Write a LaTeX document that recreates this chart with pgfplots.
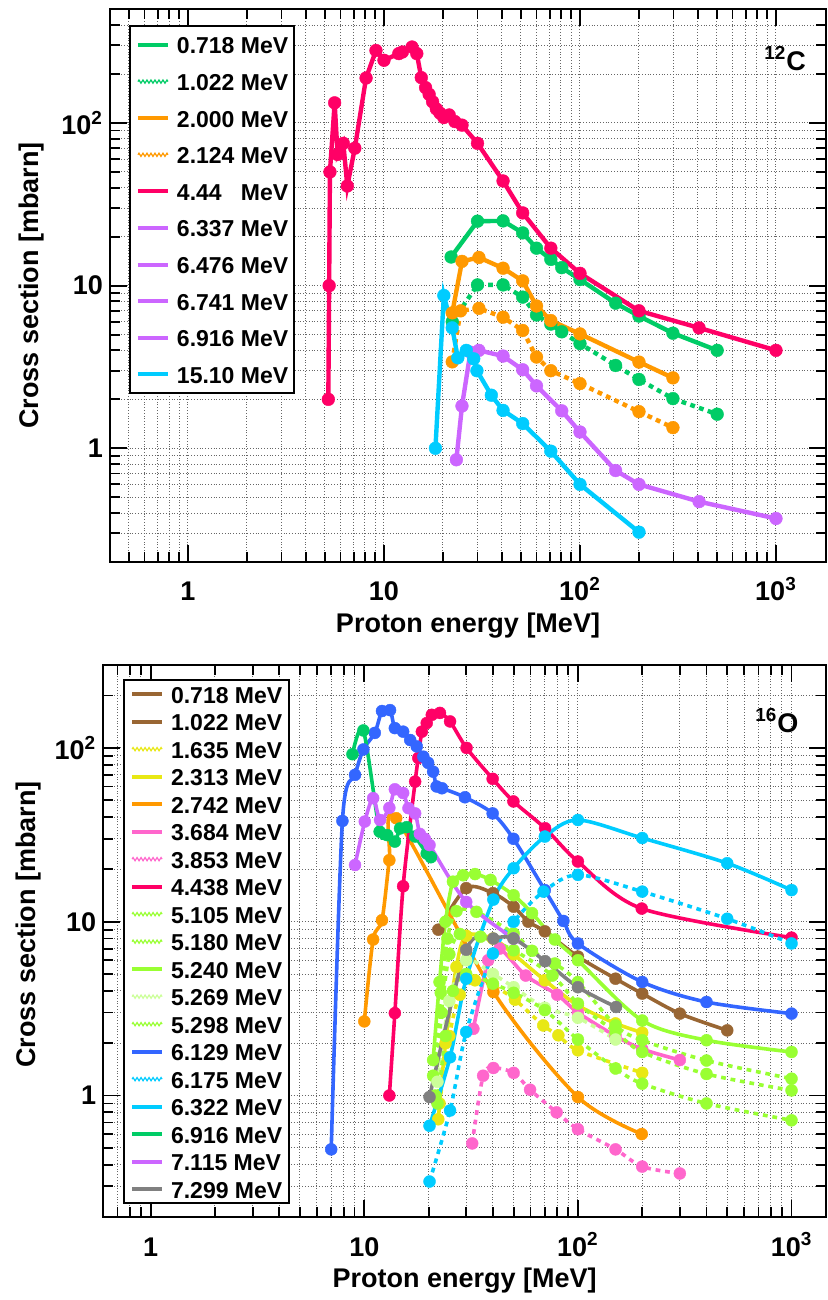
\documentclass[border=0pt]{standalone}
\usepackage{fontspec}
\setmainfont{Liberation Sans}
\usepackage{pgfplots}
\pgfplotsset{compat=1.18}
\usetikzlibrary{decorations.pathmorphing}

\definecolor{cgreen}{RGB}{0,204,102}
\definecolor{corange}{RGB}{255,153,0}
\definecolor{cred}{RGB}{255,0,102}
\definecolor{cpurple}{RGB}{204,102,255}
\definecolor{ccyan}{RGB}{0,204,255}
\definecolor{cbrown}{RGB}{153,102,51}
\definecolor{cyellow}{RGB}{232,232,20}
\definecolor{cpink}{RGB}{255,102,204}
\definecolor{cchart}{RGB}{153,255,51}
\definecolor{cpale}{RGB}{204,255,153}
\definecolor{cblue}{RGB}{51,102,255}
\definecolor{cgray}{RGB}{128,128,128}

\newcommand{\lab}{\fontsize{13.5}{16}\selectfont\bfseries}
\newcommand{\legf}{\fontsize{11.5}{13}\selectfont\bfseries}

\pgfplotsset{
 tser/.style={color=#1, line width=2.2pt, mark=*, mark size=3.2pt, mark options={solid, line width=0.2pt},
   legend image code/.code={\draw[color=#1, solid, line width=2pt] (0pt,0pt) -- (15pt,0pt);}},
 tserd/.style={tser=#1, dash pattern=on 2.4pt off 2.2pt,
   legend image code/.code={\draw[color=#1, solid, line width=0.6pt, decorate, decoration={zigzag, segment length=2pt, amplitude=0.8pt}] (0pt,0pt) -- (15pt,0pt);}},
 bser/.style={color=#1, line width=1.8pt, mark=*, mark size=3pt, mark options={solid, line width=0.2pt}, smooth, tension=0.5,
   legend image code/.code={\draw[color=#1, solid, line width=2pt] (0pt,0pt) -- (15pt,0pt);}},
 bserd/.style={bser=#1, dash pattern=on 2.4pt off 2.4pt,
   legend image code/.code={\draw[color=#1, solid, line width=0.6pt, decorate, decoration={zigzag, segment length=2pt, amplitude=0.8pt}] (0pt,0pt) -- (15pt,0pt);}},
}

\begin{document}
\begin{tikzpicture}
\path[use as bounding box] (0,0) rectangle (414pt,650pt);

% ---------------- 12C ----------------
\begin{axis}[
  xmode=log, ymode=log, scale only axis,
  at={(55pt,369pt)}, anchor=south west,
  width=358pt, height=276.35pt,
  xmin=0.4, xmax=1800, ymin=0.2, ymax=500,
  axis line style={line width=1.1pt},
  tick align=inside, tick pos=both,
  xticklabel pos=lower, yticklabel pos=left,
  major tick length=8.5pt, minor tick length=5pt,
  every tick/.style={black, line width=0.9pt},
  grid=both,
  major grid style={densely dotted, black!60, line width=0.5pt},
  minor grid style={densely dotted, black!60, line width=0.5pt},
  tick label style={font=\lab},
  xtick={1,10,100,1000},
  xticklabels={1,10,10\textsuperscript{2},10\textsuperscript{3}},
  minor xtick={0.5,0.6,0.7,0.8,0.9,2,3,4,5,6,7,8,9,20,30,40,50,60,70,80,90,200,300,400,500,600,700,800,900},
  ytick={1,10,100},
  yticklabels={1,10,10\textsuperscript{2}},
  minor ytick={0.3,0.4,0.5,0.6,0.7,0.8,0.9,2,3,4,5,6,7,8,9,20,30,40,50,60,70,80,90,200,300,400},
  xticklabel style={anchor=base, yshift=-19.5pt},
  xlabel={Proton energy [MeV]},
  ylabel={Cross section [mbarn]},
  every axis x label/.style={at={(axis description cs:0.5,0)}, anchor=center, yshift=-32pt, font=\lab},
  every axis y label/.style={at={(axis description cs:-0.109,0.5)}, rotate=90, anchor=center, font=\lab},
  legend cell align=left,
  legend style={at={(0.0265,0.9716)}, anchor=north west, draw=black, line width=1pt, fill=white,
    inner xsep=3pt, inner ysep=5pt, row sep=9.3pt, column sep=3.5pt, font=\legf,
    nodes={inner sep=0pt, text height=9pt, text depth=0pt}},
]
\addplot[tser=cgreen] coordinates {(22,15.0) (30,24.9) (40.5,25.0) (51,21.1) (60,17.0) (71,14.5) (80.7,12.9) (100,10.9) (152,7.8) (200,6.5) (298,5.1) (501,4.0)};
\addlegendentry{0.718 MeV}
\addplot[tserd=cgreen] coordinates {(22.3,6.0) (30,10.1) (40.5,10.1) (51,8.5) (60,6.6) (71,5.8) (80.7,5.2) (100,4.4) (152,3.23) (200,2.65) (298,2.02) (501,1.62)};
\addlegendentry{1.022 MeV}
\addplot[tser=corange] coordinates {(22.3,6.8) (25,14.1) (30.5,14.9) (40.5,12.8) (51,10.7) (60,7.5) (71,6.1) (100,5.05) (200,3.39) (298,2.71)};
\addlegendentry{2.000 MeV}
\addplot[tserd=corange] coordinates {(22.3,3.4) (24.6,7.0) (30.5,7.25) (40.5,6.4) (51,5.3) (60,3.64) (71,3.0) (100,2.5) (200,1.68) (298,1.34)};
\addlegendentry{2.124 MeV}
\addplot[tser=cred] coordinates {(5.2,2.0) (5.25,10) (5.3,50) (5.6,133) (5.8,64) (6.2,75) (6.5,41) (7.1,70) (8.1,189) (9.1,279) (10,243) (11.9,267) (12.4,273) (13.9,293) (14.7,267) (15.5,190) (16.3,165) (17,150) (17.7,135) (18.5,122) (19.3,115) (20.2,108) (21.5,112) (23,102) (25,97) (30,75) (40.5,44) (51,28) (71,17) (100,11.9) (200,7.0) (405,5.5) (1000,4.0)};
\addlegendentry{4.44\hphantom{0} MeV}
\addplot[tser=cpurple] coordinates {(23.4,0.85) (25,1.82) (27.6,3.9) (30.5,4.0) (40.5,3.69) (51,3.04) (60,2.42) (80.7,1.7) (100,1.26) (152,0.73) (200,0.6) (405,0.47) (1000,0.37)};
\addlegendentry{6.337 MeV}
\addlegendimage{tser=cpurple}
\addlegendentry{6.476 MeV}
\addlegendimage{tser=cpurple}
\addlegendentry{6.741 MeV}
\addlegendimage{tser=cpurple}
\addlegendentry{6.916 MeV}
\addplot[tser=ccyan] coordinates {(18.3,1.0) (20.2,8.7) (22.3,5.5) (23.8,3.6) (26.3,4.0) (28.7,3.55) (29.8,3.0) (35.3,2.12) (40.5,1.71) (51,1.42) (71,0.96) (100,0.6) (200,0.305)};
\addlegendentry{15.10 MeV}
\node[font=\lab] at (rel axis cs:0.943,0.911) {\textsuperscript{12}C};
\end{axis}

% ---------------- 16O ----------------
\begin{axis}[
  xmode=log, ymode=log, scale only axis,
  at={(51.65pt,41.5pt)}, anchor=south west,
  width=361.35pt, height=276pt,
  xmin=0.6, xmax=1450, ymin=0.2, ymax=300,
  axis line style={line width=1.1pt},
  tick align=inside, tick pos=both,
  xticklabel pos=lower, yticklabel pos=left,
  major tick length=8.5pt, minor tick length=5pt,
  every tick/.style={black, line width=0.9pt},
  grid=both,
  major grid style={densely dotted, black!60, line width=0.5pt},
  minor grid style={densely dotted, black!60, line width=0.5pt},
  tick label style={font=\lab},
  xtick={1,10,100,1000},
  xticklabels={1,10,10\textsuperscript{2},10\textsuperscript{3}},
  minor xtick={0.7,0.8,0.9,2,3,4,5,6,7,8,9,20,30,40,50,60,70,80,90,200,300,400,500,600,700,800,900},
  ytick={1,10,100},
  yticklabels={1,10,10\textsuperscript{2}},
  minor ytick={0.3,0.4,0.5,0.6,0.7,0.8,0.9,2,3,4,5,6,7,8,9,20,30,40,50,60,70,80,90,200},
  xticklabel style={anchor=base, yshift=-19.5pt},
  xlabel={Proton energy [MeV]},
  ylabel={Cross section [mbarn]},
  every axis x label/.style={at={(axis description cs:0.5,0)}, anchor=center, yshift=-32pt, font=\lab},
  every axis y label/.style={at={(axis description cs:-0.104,0.53)}, rotate=90, anchor=center, font=\lab},
  legend cell align=left,
  legend style={at={(0.0268,0.974)}, anchor=north west, draw=black, line width=1pt, fill=white,
    inner xsep=3.2pt, inner ysep=2.4pt, row sep=4.75pt, column sep=3.5pt, font=\legf,
    nodes={inner sep=0pt, text height=9pt, text depth=0pt}},
]
\addplot[bser=cbrown] coordinates {(22.2,9.0) (30,15.6) (40,14.6) (50,12.2) (58.6,10) (70,8.8) (100,6.3) (150,4.7) (200,3.86) (300,2.96) (500,2.37)};
\addlegendentry{0.718 MeV}
\addlegendimage{bser=cbrown}
\addlegendentry{1.022 MeV}
\addplot[bserd=cyellow] coordinates {(22.5,0.9) (25,2.2) (28,3.8) (33,4.6) (40,4.3) (50.7,3.56) (68.8,2.53) (81,2.22) (100,1.82) (200,1.35)};
\addlegendentry{1.635 MeV}
\addplot[bser=cyellow] coordinates {(22.2,0.73) (24,2.0) (27,5.5) (30,8.3) (40,8.0) (50,6.5) (70,4.6) (100,3.3) (150,2.6) (200,2.3)};
\addlegendentry{2.313 MeV}
\addplot[bser=corange] coordinates {(10,2.67) (11,7.9) (12.1,10.2) (13.1,22.6) (14.1,39.4) (40.2,3.94) (100,0.98) (199,0.6)};
\addlegendentry{2.742 MeV}
\addplot[bser=cpink] coordinates {(32.4,2.42) (38,6.0) (43,7.0) (57,4.9) (80,3.8) (100,3.0) (150,2.2) (200,1.85) (300,1.6)};
\addlegendentry{3.684 MeV}
\addplot[bserd=cpink] coordinates {(32,0.53) (36,1.3) (40.2,1.44) (50,1.35) (59.7,1.08) (79.5,0.8) (100,0.64) (150,0.49) (200,0.39) (300,0.356)};
\addlegendentry{3.853 MeV}
\addplot[bser=cred] coordinates {(13.1,1.0) (13.9,2.98) (15.2,16) (17.3,64) (17.9,87.5) (18.6,124) (19.6,139) (20.7,155) (22.6,159) (25.2,142) (30.1,100) (39.9,66.4) (49.9,49.2) (70.2,34.5) (100,22.2) (199,11.9) (1000,8.1)};
\addlegendentry{4.438 MeV}
\addplot[bserd=cchart] coordinates {(21,1.3) (22.8,3.9) (24.5,8) (27,11.5) (33.5,11.4) (50,8.55) (61,6.8) (78,5.75) (100,4.5) (150,2.53) (200,2.08) (400,1.59) (1000,1.25)};
\addlegendentry{5.105 MeV}
\addplot[bserd=cchart] coordinates {(21.5,1.0) (23,3) (25,6.5) (28,8.5) (35,8.2) (50,6.85) (76,4.9) (100,3.38) (150,2.32) (200,1.78) (400,1.33) (1000,1.07)};
\addlegendentry{5.180 MeV}
\addplot[bser=cchart] coordinates {(21,1.6) (22.5,4.5) (24,10) (26,17) (29,18.5) (33,18.8) (39,17.4) (50,14.2) (61,11.2) (78,7.9) (100,6.0) (200,2.7) (400,2.08) (1000,1.78)};
\addlegendentry{5.240 MeV}
\addplot[bserd=cpale] coordinates {(22,1.2) (25,3.5) (30,6) (40,5) (50,4.2) (70,3.2) (100,2.8) (150,2.1)};
\addlegendentry{5.269 MeV}
\addplot[bserd=cchart] coordinates {(22,0.9) (24,2.2) (26,4) (30,5) (40,4.4) (50,3.9) (70,3.1) (100,2.1) (150,1.43) (200,1.17) (400,0.9) (1000,0.72)};
\addlegendentry{5.298 MeV}
\addplot[bser=cblue] coordinates {(7.0,0.49) (7.9,38) (9.05,70) (9.9,98) (11.2,122) (12.1,163) (13.2,165) (13.9,130) (15.2,124) (16.4,111) (17.6,102) (18.9,89) (19.9,82) (21,73) (21.8,60) (23.1,58.6) (29.6,52) (39.9,42) (49.9,30) (70,15.2) (85.5,10.1) (100,7.5) (200,4.5) (400,3.45) (1000,2.96)};
\addlegendentry{6.129 MeV}
\addplot[bserd=ccyan] coordinates {(20.2,0.32) (25.2,0.82) (30,2.32) (40,6.56) (50,10) (69,14.9) (100,18.6) (200,14.9) (500,10.4) (1000,7.5)};
\addlegendentry{6.175 MeV}
\addplot[bser=ccyan] coordinates {(20.2,0.67) (25.2,1.66) (30,4.7) (40.2,13.4) (50,20.3) (70,30.9) (100,38.5) (200,30.3) (500,21.7) (1000,15.2)};
\addlegendentry{6.322 MeV}
\addplot[bser=cgreen] coordinates {(8.8,92) (9.9,126) (11.8,33) (12.8,31.5) (13.9,28.9) (14.7,34.4) (15.8,35) (17.3,30.9) (19.6,24.7) (20.5,23.5)};
\addlegendentry{6.916 MeV}
\addplot[bser=cpurple] coordinates {(9.05,21.2) (10.05,37.7) (11.0,51.4) (11.85,38.5) (13.1,45.2) (13.9,57.8) (15.2,55) (16.1,45) (17.3,42) (18.2,32) (19.2,30) (20.2,27.6) (30,13) (50,8)};
\addlegendentry{7.115 MeV}
\addplot[bser=cgray] coordinates {(20.2,0.98) (30,6.9) (40.2,8.0) (49.9,8.0) (70.2,5.93) (100,4.2) (150.8,3.23)};
\addlegendentry{7.299 MeV}
\node[font=\lab] at (rel axis cs:0.932,0.899) {\textsuperscript{16}O};
\end{axis}
\end{tikzpicture}
\end{document}
